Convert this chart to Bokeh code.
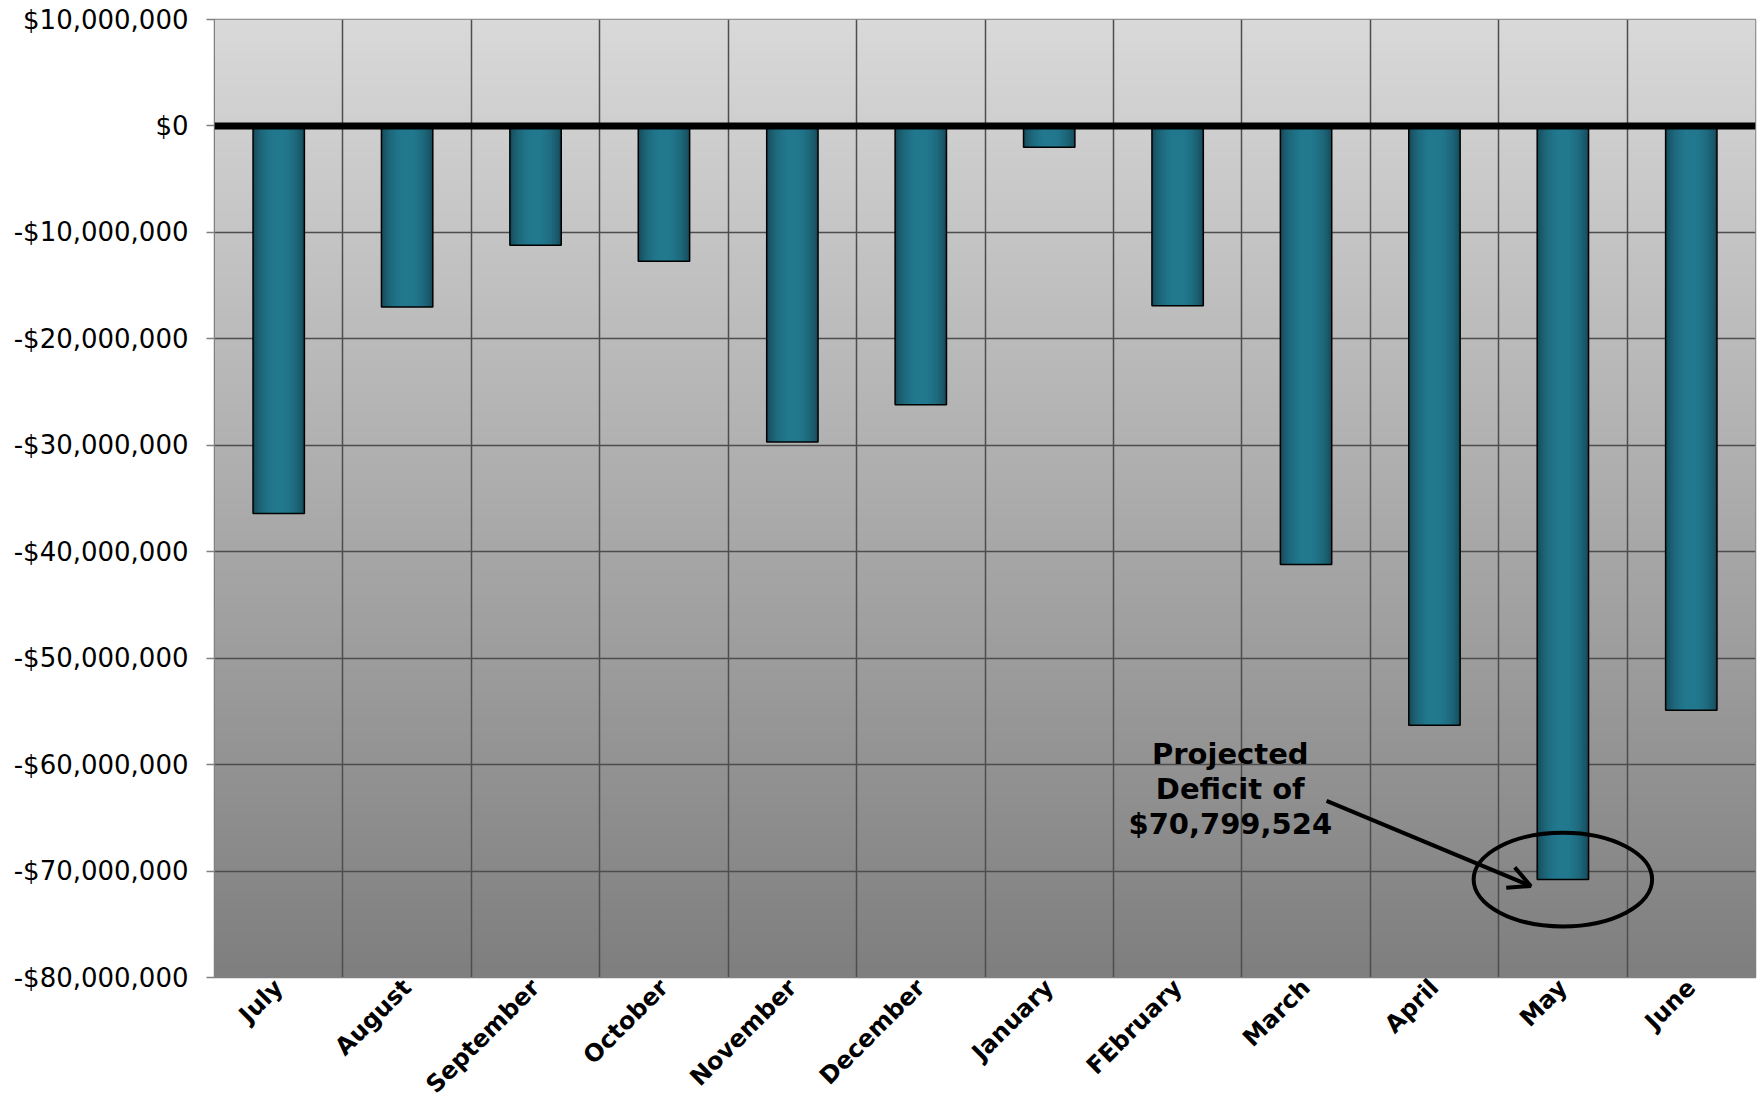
import numpy as np
from bokeh.plotting import figure
from bokeh.models import (FixedTicker, CustomJSTickFormatter, Span, Grid, Arrow, OpenHead,
                          Label, Range1d, ColumnDataSource)
from bokeh.core.properties import value
from bokeh.embed import file_html
from bokeh.resources import INLINE

# ---------------- data ----------------
months = ["July", "August", "September", "October", "November", "December",
          "January", "FEbruary", "March", "April", "May", "June"]
deficit = [-36400000, -17000000, -11200000, -12700000, -29700000, -26200000,
           -2000000, -16900000, -41200000, -56300000, -70799524, -54900000]
y_ticks = [10000000, 0, -10000000, -20000000, -30000000, -40000000,
           -50000000, -60000000, -70000000, -80000000]
annotation_lines = ["Projected", "Deficit of", "$70,799,524"]

FONT = "DejaVu Sans"
n = len(months)
xs = list(range(n))
ymin, ymax = -80000000, 10000000

p = figure(width=1762, height=1117, output_backend="svg", toolbar_location=None,
           x_range=Range1d(-0.5, n - 0.5), y_range=Range1d(ymin, ymax),
           min_border_left=214, min_border_right=7, min_border_top=19, min_border_bottom=140)
p.background_fill_color = "white"
p.border_fill_color = "white"
p.outline_line_color = "#808080"
p.outline_line_width = 1.5

# background vertical gradient
N = 200
t = np.linspace(0, 1, N)  # bottom -> top
g = (127 + (217 - 127) * t).astype(np.uint32)
img = np.empty((N, 1), dtype=np.uint32)
view = img.view(dtype=np.uint8).reshape((N, 1, 4))
view[:, 0, 0] = g
view[:, 0, 1] = g
view[:, 0, 2] = g
view[:, 0, 3] = 255
bg = p.image_rgba(image=[img], x=-0.5, y=ymin, dw=n, dh=ymax - ymin)
bg.level = "image"

# grids
p.xgrid.visible = False
p.ygrid.ticker = FixedTicker(ticks=y_ticks)
p.ygrid.grid_line_color = "#4d4d4d"
p.ygrid.grid_line_width = 1.5
vgrid = Grid(dimension=0, ticker=FixedTicker(ticks=[i - 0.5 for i in range(n + 1)]),
             grid_line_color="#4d4d4d", grid_line_width=1.5)
p.add_layout(vgrid)

# bars with cylindrical shading (nested layers, widest/darkest first)
bw = 0.4
K = 14
dark = np.array([0x14, 0x42, 0x50])
light = np.array([0x23, 0x7a, 0x90])
for k in range(K):
    frac = 1 - k / K
    edge_t = (1 - frac) / 2
    f = np.sin(np.pi * (edge_t + 0.5 / K / 2)) ** 0.6
    c = (dark + (light - dark) * f).astype(int)
    col = "#%02x%02x%02x" % tuple(c)
    p.vbar(x=xs, width=bw * frac, top=0, bottom=deficit,
           fill_color=col, line_color=None)
p.vbar(x=xs, width=bw, top=0, bottom=deficit, fill_color=None,
       line_color="black", line_width=1.5)

# zero line
p.add_layout(Span(location=0, dimension="width", line_color="black", line_width=7))

# annotation
may_i = months.index("May")
may_v = deficit[may_i]
p.ellipse(x=[may_i], y=[may_v], width=1.39, height=8800000, fill_color=None,
          line_color="black", line_width=4)
p.add_layout(Arrow(end=OpenHead(size=22, line_width=4, line_color="black"),
                   x_start=may_i - 1.84, y_start=may_v + 7400000,
                   x_end=may_i - 0.25, y_end=may_v - 600000,
                   line_width=4, line_color="black"))
ann_src = ColumnDataSource(dict(
    x=[may_i - 2.59] * 3,
    y=[may_v + 11800000, may_v + 8500000, may_v + 5200000],
    t=annotation_lines))
p.text(x="x", y="y", text="t", source=ann_src, text_font=value(FONT),
       text_font_style="bold", text_font_size="29px", text_align="center",
       text_baseline="middle", text_color="black")

# axes
p.yaxis.ticker = FixedTicker(ticks=y_ticks)
p.yaxis.formatter = CustomJSTickFormatter(code="""
    const a = Math.abs(tick).toLocaleString('en-US');
    return (tick < 0 ? '-' : '') + '$' + a;
""")
p.yaxis.major_label_text_font = FONT
p.yaxis.major_label_text_font_size = "26px"
p.yaxis.major_label_text_color = "black"
p.yaxis.major_tick_in = 0
p.yaxis.major_tick_out = 8
p.yaxis.major_tick_line_color = "#808080"
p.yaxis.major_tick_line_width = 1.5
p.yaxis.minor_tick_line_color = None
p.yaxis.axis_line_color = "#808080"
p.yaxis.major_label_standoff = 18

p.xaxis.ticker = FixedTicker(ticks=xs)
p.xaxis.major_label_overrides = {i: m for i, m in enumerate(months)}
p.xaxis.major_label_orientation = np.pi / 4
p.xaxis.major_label_text_font = FONT
p.xaxis.major_label_text_font_style = "bold"
p.xaxis.major_label_text_font_size = "24px"
p.xaxis.major_label_text_color = "black"
p.xaxis.major_tick_line_color = None
p.xaxis.minor_tick_line_color = None
p.xaxis.axis_line_color = "#808080"
p.xaxis.major_label_standoff = 0

# slide footer (cut off at the bottom edge, as in the reference)
p.add_layout(Label(x=1434, y=-133, x_units="screen", y_units="screen", text="Slide 5",
                   text_font=FONT, text_font_size="22px", text_color="black",
                   text_baseline="top"))

open("out.html", "w").write(file_html(p, INLINE))
